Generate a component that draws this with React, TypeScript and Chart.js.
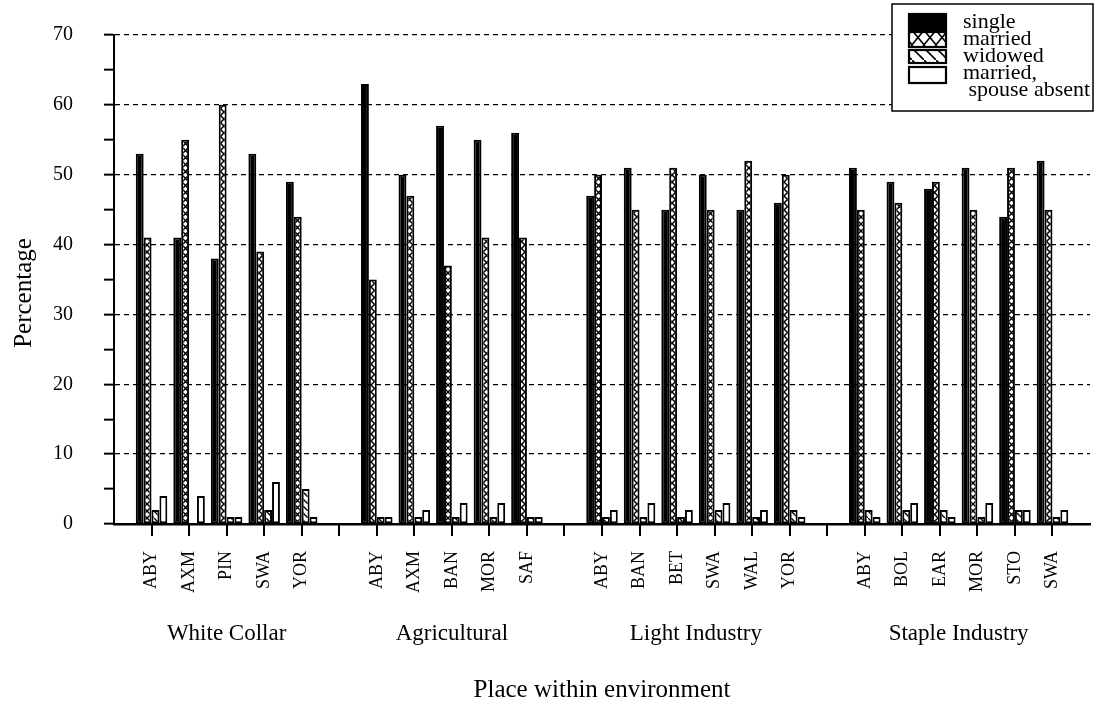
import React, { useEffect, useRef } from "react";
import { Chart, registerables } from "chart.js";

Chart.register(...registerables);

// Places sampled within each environment
const whiteCollar = ["ABY", "AXM", "PIN", "SWA", "YOR"];
const agricultural = ["ABY", "AXM", "BAN", "MOR", "SAF"];
const lightIndustry = ["ABY", "BAN", "BET", "SWA", "WAL", "YOR"];
const stapleIndustry = ["ABY", "BOL", "EAR", "MOR", "STO", "SWA"];
const environments = ["White Collar", "Agricultural", "Light Industry", "Staple Industry"];

// Marital status percentages, in place order across all four environments
const single = [53, 41, 38, 53, 49, 63, 50, 57, 55, 56, 47, 51, 45, 50, 45, 46, 51, 49, 48, 51, 44, 52];
const married = [41, 55, 60, 39, 44, 35, 47, 37, 41, 41, 50, 45, 51, 45, 52, 50, 45, 46, 49, 45, 51, 45];
const widowed = [2, 0, 1, 2, 5, 1, 1, 1, 1, 1, 1, 1, 1, 2, 1, 2, 2, 2, 2, 1, 2, 1];
const spouseAbsent = [4, 4, 1, 6, 1, 1, 2, 3, 3, 1, 2, 3, 2, 3, 2, 1, 1, 3, 1, 3, 2, 2];

const yTicks = { min: 0, max: 70, step: 5, labelEvery: 10 };

const SERIF = '"Liberation Serif", "Times New Roman", serif';

const groups = [whiteCollar, agricultural, lightIndustry, stapleIndustry];

// Category axis: a blank slot at each end and between environments
function buildAxis() {
  const labels: string[] = [""];
  const index: number[] = [];
  const groupSlots: number[][] = [];
  groups.forEach((g) => {
    const slots: number[] = [];
    g.forEach((p) => {
      index.push(labels.length);
      slots.push(labels.length);
      labels.push(p);
    });
    groupSlots.push(slots);
    labels.push("");
  });
  return { labels, index, groupSlots };
}

function spread(values: number[], labels: string[], index: number[]) {
  const out: (number | null)[] = labels.map(() => null);
  values.forEach((v, i) => {
    out[index[i]] = v;
  });
  return out;
}

function makePattern(kind: "cross" | "diag", w: number, h: number, lw: number) {
  const c = document.createElement("canvas");
  c.width = w;
  c.height = h;
  const g = c.getContext("2d")!;
  g.fillStyle = "#fff";
  g.fillRect(0, 0, w, h);
  g.strokeStyle = "#000";
  g.lineWidth = lw;
  g.beginPath();
  g.moveTo(-1, -1);
  g.lineTo(w + 1, h + 1);
  if (kind === "cross") {
    g.moveTo(w + 1, -1);
    g.lineTo(-1, h + 1);
  }
  g.stroke();
  return g.createPattern(c, "repeat")!;
}

export default function App() {
  const ref = useRef<HTMLCanvasElement>(null);

  useEffect(() => {
    const canvas = ref.current!;
    const { labels, index, groupSlots } = buildAxis();
    const crossBar = makePattern("cross", 7, 7, 1.5);
    const diagBar = makePattern("diag", 7, 7, 1.4);
    const crossKey = makePattern("cross", 12, 15, 1.6);
    const diagKey = makePattern("diag", 12, 12, 1.6);

    const series = [
      { label: "single", data: single, fill: "#000" as any, key: "#000" as any },
      { label: "married", data: married, fill: crossBar, key: crossKey },
      { label: "widowed", data: widowed, fill: diagBar, key: diagKey },
      { label: "married,\n spouse absent", data: spouseAbsent, fill: "#fff", key: "#fff" },
    ];

    const overlay = {
      id: "keyTicksCaptions",
      afterDraw(chart: any) {
        const ctx = chart.ctx as CanvasRenderingContext2D;
        const xs = chart.scales.x;
        const y0 = chart.chartArea.bottom;
        ctx.save();

        // tick marks under every slot of the place axis
        ctx.strokeStyle = "#000";
        ctx.lineWidth = 2;
        ctx.beginPath();
        for (let i = 1; i < labels.length - 1; i++) {
          const x = Math.round(xs.getPixelForValue(i));
          ctx.moveTo(x, y0);
          ctx.lineTo(x, y0 + 12);
        }
        ctx.stroke();

        // environment captions under the place names
        ctx.fillStyle = "#000";
        ctx.font = `23px ${SERIF}`;
        ctx.textAlign = "center";
        ctx.textBaseline = "middle";
        groupSlots.forEach((slots, gi) => {
          const a = xs.getPixelForValue(slots[0]);
          const b = xs.getPixelForValue(slots[slots.length - 1]);
          ctx.fillText(environments[gi], (a + b) / 2, 634);
        });

        // axis titles
        ctx.font = `25px ${SERIF}`;
        ctx.fillText("Place within environment", (chart.chartArea.left + chart.chartArea.right) / 2, 690);
        ctx.save();
        ctx.translate(24, 293);
        ctx.rotate(-Math.PI / 2);
        ctx.fillText("Percentage", 0, 0);
        ctx.restore();

        // key box
        const bx = 892, by = 4, bw = 201, bh = 107;
        ctx.fillStyle = "#fff";
        ctx.fillRect(bx, by, bw, bh);
        ctx.strokeStyle = "#000";
        ctx.lineWidth = 1.5;
        ctx.strokeRect(bx, by, bw, bh);
        const swatchY = [14, 32, 50, 67];
        const swatchH = [16, 15, 13, 16];
        const baseY = [28, 45, 62, 79];
        ctx.font = `22px ${SERIF}`;
        ctx.textAlign = "left";
        ctx.textBaseline = "alphabetic";
        series.forEach((s, i) => {
          ctx.fillStyle = s.key;
          ctx.fillRect(909, swatchY[i], 37, swatchH[i]);
          ctx.lineWidth = 2.2;
          ctx.strokeStyle = "#000";
          ctx.strokeRect(909, swatchY[i], 37, swatchH[i]);
          ctx.fillStyle = "#000";
          const lines = s.label.split("\n");
          lines.forEach((t, li) => ctx.fillText(t, 963, baseY[i] + li * 17));
        });
        ctx.restore();
      },
    };

    const chart = new Chart(canvas, {
      type: "bar",
      data: {
        labels,
        datasets: series.map((s) => ({
          label: s.label,
          data: spread(s.data, labels, index),
          backgroundColor: s.fill,
          borderColor: "#000",
          borderWidth: 2,
          borderSkipped: false,
          inflateAmount: 0,
          categoryPercentage: 0.84,
          barPercentage: 1,
        })),
      },
      options: {
        responsive: false,
        animation: false,
        events: [],
        layout: { padding: { top: 35, right: 6, left: 0, bottom: 0 } },
        plugins: {
          legend: { display: false },
          tooltip: { enabled: false },
          title: { display: false },
        },
        scales: {
          x: {
            type: "category",
            offset: false,
            grid: {
              offset: false,
              drawOnChartArea: false,
              drawTicks: true,
              tickLength: 11,
              tickColor: "rgba(0,0,0,0)",
            },
            border: { display: true, color: "#000", width: 2.5 },
            ticks: {
              autoSkip: false,
              minRotation: 90,
              maxRotation: 90,
              padding: 16,
              color: "#000",
              font: { family: SERIF, size: 18 },
            },
            afterFit: (s: any) => {
              s.height = 703 - 524;
              s.paddingLeft = 0;
              s.paddingRight = 0;
            },
          },
          y: {
            min: yTicks.min,
            max: yTicks.max,
            ticks: {
              stepSize: yTicks.step,
              padding: 31,
              color: "#000",
              font: { family: SERIF, size: 20 },
              callback: (v: any) => (Number(v) % yTicks.labelEvery === 0 ? String(v) : ""),
            },
            grid: {
              color: (c: any) =>
                c.tick && c.tick.value > 0 && c.tick.value % yTicks.labelEvery === 0
                  ? "#000"
                  : "rgba(0,0,0,0)",
              lineWidth: 1.3,
              tickColor: "#000",
              tickLength: 10,
              tickWidth: 2,
            },
            border: { display: true, color: "#000", width: 2, dash: [5, 4] },
            afterFit: (s: any) => {
              s.width = 114;
              s.paddingTop = 0;
              s.paddingBottom = 0;
            },
          },
        },
      },
      plugins: [overlay],
    } as any);

    return () => chart.destroy();
  }, []);

  return (
    <div style={{ position: "fixed", left: 0, top: 0, width: 1096, height: 703, background: "#fff" }}>
      <canvas ref={ref} width={1096} height={703} style={{ display: "block" }} />
    </div>
  );
}
